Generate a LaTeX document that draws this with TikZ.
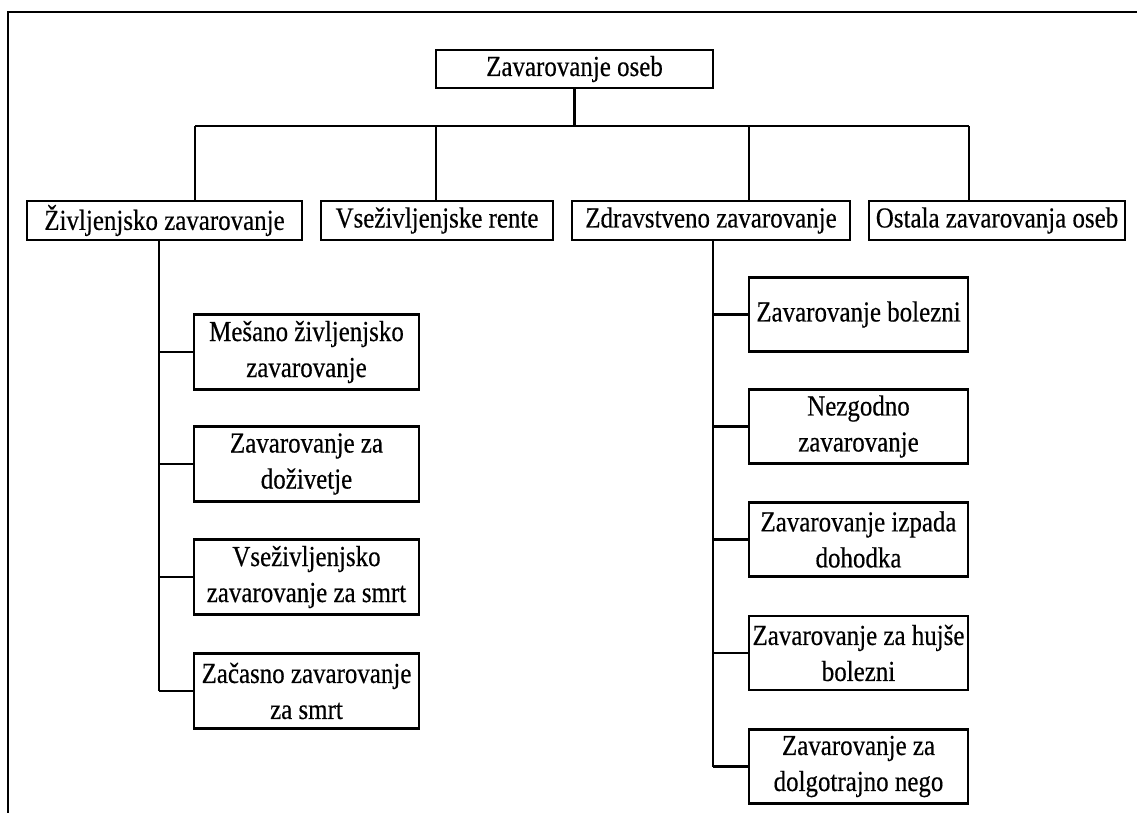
\documentclass[tikz,border=0pt]{standalone}
\usepackage{fontspec}
\setmainfont{Liberation Serif}[FakeStretch=0.86, FakeBold=0.4]
\begin{document}
\begin{tikzpicture}[x=1pt,y=-1pt,
  line width=2.2pt,
  box/.style={draw, inner sep=0pt, align=center,
    font=\fontsize{29}{36}\selectfont},
  toprow/.style={box, minimum height=39pt},
  leftkid/.style={box, minimum width=225pt, minimum height=75pt},
  rightkid/.style={box, minimum width=219pt, minimum height=74pt}]
\useasboundingbox (0,0) rectangle (1137,812);
\begin{scope}
\clip (0,0) rectangle (1137,812);
% page frame (top and left edges)
\draw[line width=2.6pt] (8,830) -- (8,12) -- (1150,12);
\end{scope}

% root
\node[box, minimum width=277pt, minimum height=38pt] (root) at (574.5,69) {Zavarovanje oseb};

% second level
\node[toprow, minimum width=275pt] (life)   at (164.5,220.5) {Življenjsko zavarovanje};
\node[toprow, minimum width=232pt] (annuity) at (437,220.5)  {Vseživljenjske rente};
\node[toprow, minimum width=278pt] (health) at (711,220.5)   {Zdravstveno zavarovanje};
\node[toprow, minimum width=256pt] (other)  at (997,220.5)   {Ostala zavarovanja oseb};

% life insurance kinds
\node[leftkid] (la) at (306.5,352) {Mešano življenjsko\\zavarovanje};
\node[leftkid] (lb) at (306.5,464) {Zavarovanje za\\doživetje};
\node[leftkid] (lc) at (306.5,577) {Vseživljenjsko\\zavarovanje za smrt};
\node[leftkid] (ld) at (306.5,691) {Začasno zavarovanje\\za smrt};

% health insurance kinds
\node[rightkid] (ha) at (858.5,314.5) {Zavarovanje bolezni};
\node[rightkid] (hb) at (858.5,426.5) {Nezgodno\\zavarovanje};
\node[rightkid] (hc) at (858.5,539.5) {Zavarovanje izpada\\dohodka};
\node[rightkid] (hd) at (858.5,653)   {Zavarovanje za hujše\\bolezni};
\node[rightkid] (he) at (858.5,766.5) {Zavarovanje za\\dolgotrajno nego};

% branch points on the bus
\coordinate (jL) at (195,126);
\coordinate (jA) at (436,126);
\coordinate (jH) at (749,126);
\coordinate (jO) at (969,126);

\draw (root.south) -- (root.south |- jL);
\draw (jL) -- (jO);
\draw (jL) -- (jL |- life.north);
\draw (jA) -- (jA |- annuity.north);
\draw (jH) -- (jH |- health.north);
\draw (jO) -- (jO |- other.north);

% left trunk
\coordinate (tL) at (159,0);
\draw (tL |- life.south) -- (tL |- ld.west);
\foreach \k in {la,lb,lc,ld}
  \draw (tL |- \k.west) -- (\k.west);

% right trunk
\coordinate (tH) at (713,0);
\draw (tH |- health.south) -- (tH |- he.west);
\foreach \k in {ha,hb,hc,hd,he}
  \draw (tH |- \k.west) -- (\k.west);
\end{tikzpicture}
\end{document}
